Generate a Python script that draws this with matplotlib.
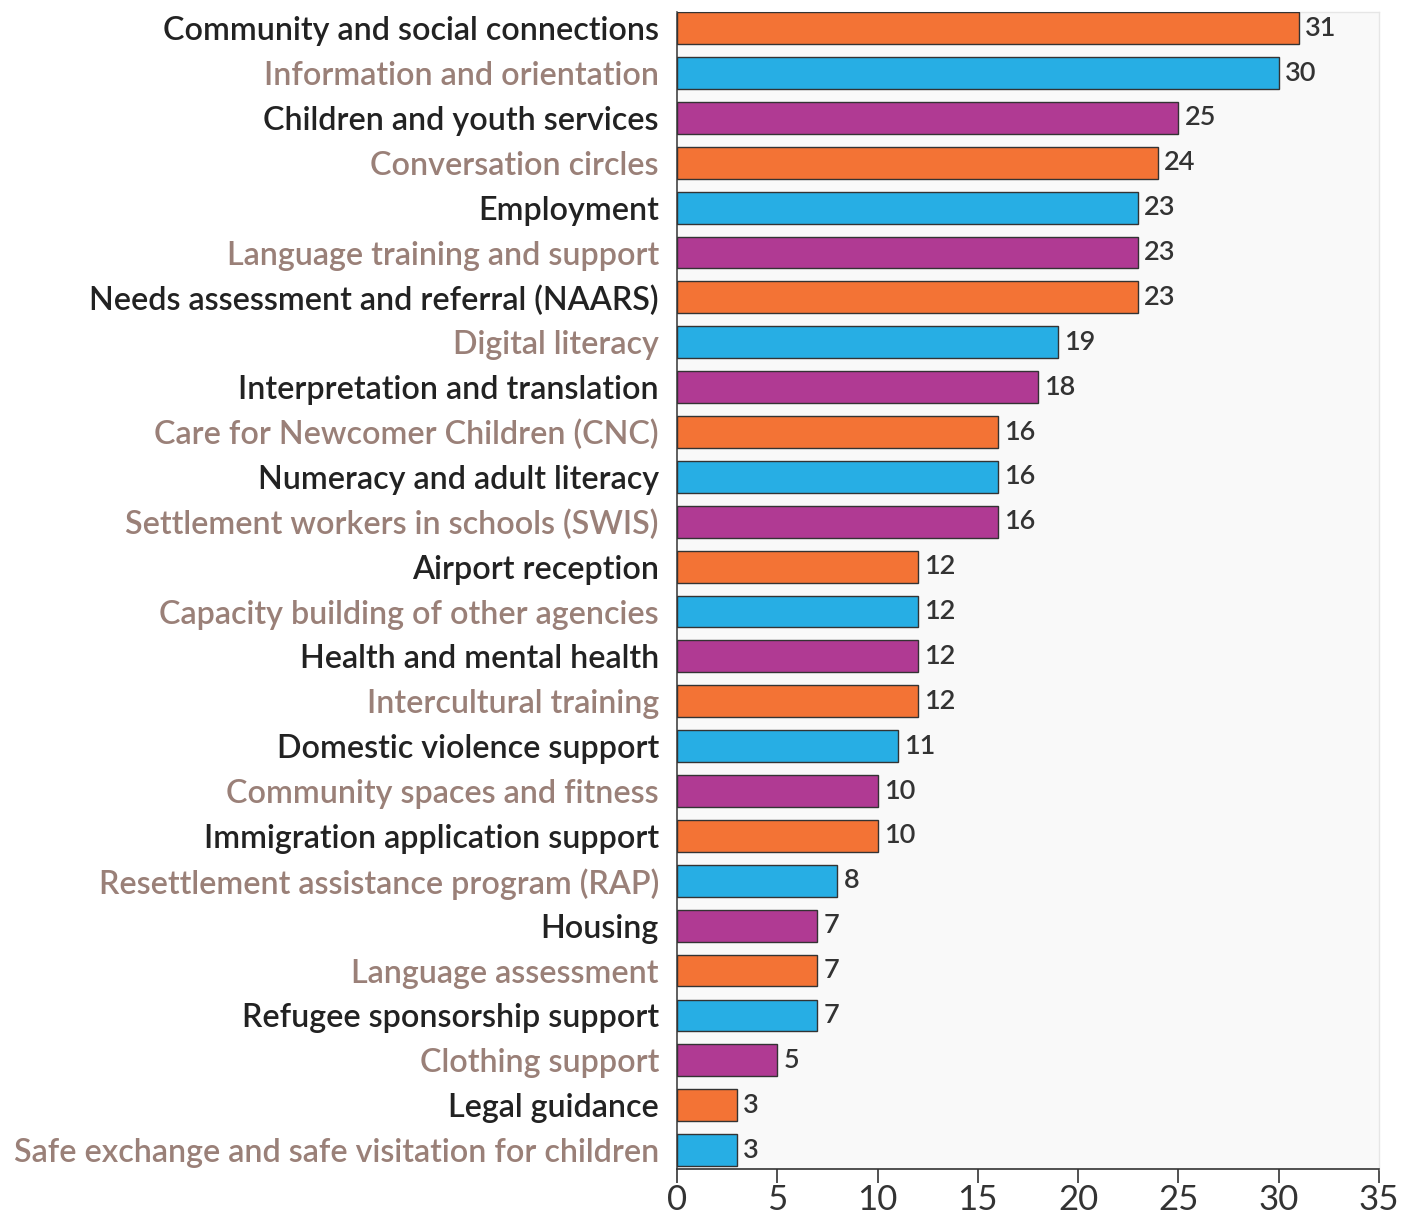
import matplotlib
matplotlib.use("Agg")
import matplotlib.pyplot as plt

services = [
    "Community and social connections",
    "Information and orientation",
    "Children and youth services",
    "Conversation circles",
    "Employment",
    "Language training and support",
    "Needs assessment and referral (NAARS)",
    "Digital literacy",
    "Interpretation and translation",
    "Care for Newcomer Children (CNC)",
    "Numeracy and adult literacy",
    "Settlement workers in schools (SWIS)",
    "Airport reception",
    "Capacity building of other agencies",
    "Health and mental health",
    "Intercultural training",
    "Domestic violence support",
    "Community spaces and fitness",
    "Immigration application support",
    "Resettlement assistance program (RAP)",
    "Housing",
    "Language assessment",
    "Refugee sponsorship support",
    "Clothing support",
    "Legal guidance",
    "Safe exchange and safe visitation for children",
]
counts = [31, 30, 25, 24, 23, 23, 23, 19, 18, 16, 16, 16, 12, 12, 12, 12,
          11, 10, 10, 8, 7, 7, 7, 5, 3, 3]
xticks = [0, 5, 10, 15, 20, 25, 30, 35]

palette = ["#F37335", "#27AEE4", "#B03A93"]
label_colors = ["#222222", "#9A8078"]

plt.rcParams['font.family'] = ['Lato', 'DejaVu Sans']

fig = plt.figure(figsize=(14.11, 12.24), dpi=100)
ax = fig.add_axes([0.4798, 0.045, 0.4975, 0.9452])
ax.set_facecolor("#F9F9F9")

ypos = list(range(len(services)))
bar_colors = [palette[i % 3] for i in ypos]
ax.barh(ypos, counts, height=0.71, color=bar_colors, edgecolor="#333333",
        linewidth=1.0, zorder=3)

for y, v in zip(ypos, counts):
    ax.text(v + 0.3, y, str(v), va="center", ha="left", fontsize=19.5,
            fontweight="semibold", color="#333333")

ax.set_yticks(ypos)
ax.set_yticklabels(services, fontsize=23.2, fontweight="semibold")
for i, lbl in enumerate(ax.get_yticklabels()):
    lbl.set_color(label_colors[i % 2])
ax.tick_params(axis="y", length=0, pad=13)

ax.set_xlim(0, 35)
ax.set_ylim(25.42, -0.36)
ax.set_xticks(xticks)
ax.set_xticklabels([str(t) for t in xticks], fontsize=25, color="#333333")
ax.tick_params(axis="x", length=10, width=1.2, color="#333333", pad=1,
               direction="out")

for side in ["top", "right"]:
    ax.spines[side].set_color("#E6E6E6")
    ax.spines[side].set_linewidth(1.0)
ax.spines["left"].set_color("#444444")
ax.spines["left"].set_linewidth(1.2)
ax.spines["bottom"].set_color("#333333")
ax.spines["bottom"].set_linewidth(1.2)

fig.savefig("out.png", dpi=100)
